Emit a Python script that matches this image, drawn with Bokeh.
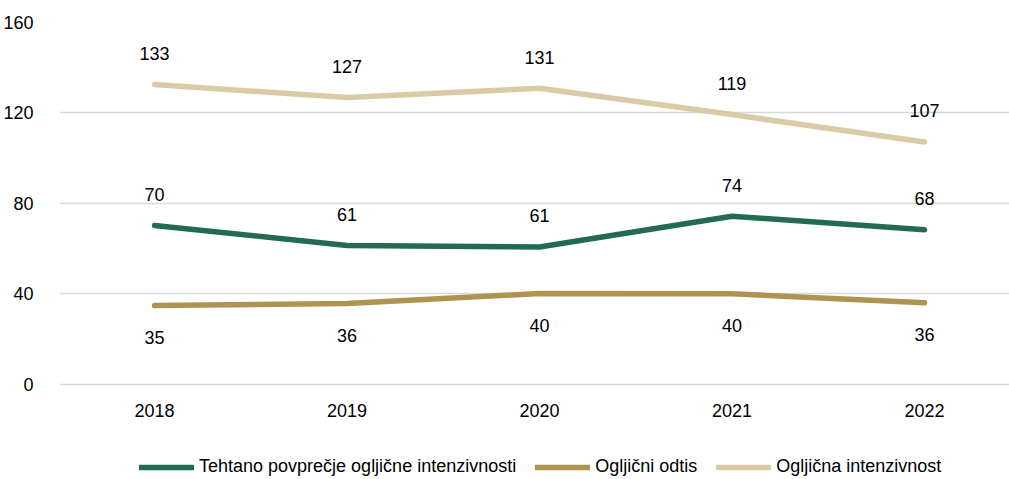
from bokeh.plotting import figure
from bokeh.models import ColumnDataSource, LabelSet, Legend, LegendItem, Range1d, FixedTicker
from bokeh.core.properties import value
from bokeh.embed import file_html
from bokeh.resources import INLINE

years = [2018, 2019, 2020, 2021, 2022]
year_labels = ["2018", "2019", "2020", "2021", "2022"]
weighted_avg = [70.3, 61.4, 60.8, 74.4, 68.4]
carbon_footprint = [34.9, 35.8, 40.2, 40.1, 36.1]
carbon_intensity = [132.6, 126.8, 130.9, 119.3, 107.2]
y_ticks = [0, 40, 80, 120, 160]

series_names = ["Tehtano povprečje ogljične intenzivnosti", "Ogljični odtis", "Ogljična intenzivnost"]
colors = ["#236B4F", "#B09350", "#D8CBA6"]

FONT = "Liberation Sans"
FS = "18px"

# frame extends to the bottom of the page so the legend fits inside it;
# the value axis keeps 0..160 over 362 px
p = figure(frame_width=951, frame_height=457, output_backend="svg", toolbar_location=None,
           x_range=Range1d(2017.506, 2022.447), y_range=Range1d(-41.99, 160),
           min_border_left=58, min_border_right=0, min_border_top=22, min_border_bottom=0)
p.outline_line_color = None
p.background_fill_color = "white"
p.border_fill_color = "white"

p.xgrid.visible = False
p.xaxis.visible = False
p.ygrid.grid_line_color = "#D9D9D9"
p.ygrid.grid_line_width = 1.5
p.yaxis.ticker = FixedTicker(ticks=y_ticks)
p.yaxis.axis_line_color = None
p.yaxis.major_tick_line_color = None
p.yaxis.minor_tick_line_color = None
p.yaxis.major_label_text_font = FONT
p.yaxis.major_label_text_font_size = FS
p.yaxis.major_label_text_color = "#000000"
p.yaxis.major_label_standoff = 20

# category (year) labels under the zero line
ysrc = ColumnDataSource(dict(x=years, y=[0] * len(years), lbl=year_labels))
p.add_layout(LabelSet(x="x", y="y", text="lbl", source=ysrc, y_offset=-26,
                      text_align="center", text_baseline="middle",
                      text_font=value(FONT), text_font_size=FS, text_color="#000000"))

items = []
all_series = [weighted_avg, carbon_footprint, carbon_intensity]
offsets = [31, -32, 31]
for name, vals, col, off in zip(series_names, all_series, colors, offsets):
    src = ColumnDataSource(dict(x=years, y=vals, lbl=[str(round(v)) for v in vals]))
    r = p.line("x", "y", source=src, line_color=col, line_width=5.5, line_cap="round", line_join="round")
    items.append(LegendItem(label=name, renderers=[r]))
    labels = LabelSet(x="x", y="y", text="lbl", source=src, y_offset=off,
                      text_align="center", text_baseline="middle",
                      text_font=value(FONT), text_font_size=FS, text_color="#000000")
    p.add_layout(labels)

legend = Legend(items=items, orientation="horizontal", location=(80, 2),
                glyph_width=55, glyph_height=20, label_standoff=5, spacing=19,
                label_text_font=FONT, label_text_font_size=FS, label_text_color="#000000",
                border_line_color=None, background_fill_alpha=0, padding=0,
                margin=0)
p.add_layout(legend, "center")

open("out.html", "w").write(file_html(p, INLINE))
